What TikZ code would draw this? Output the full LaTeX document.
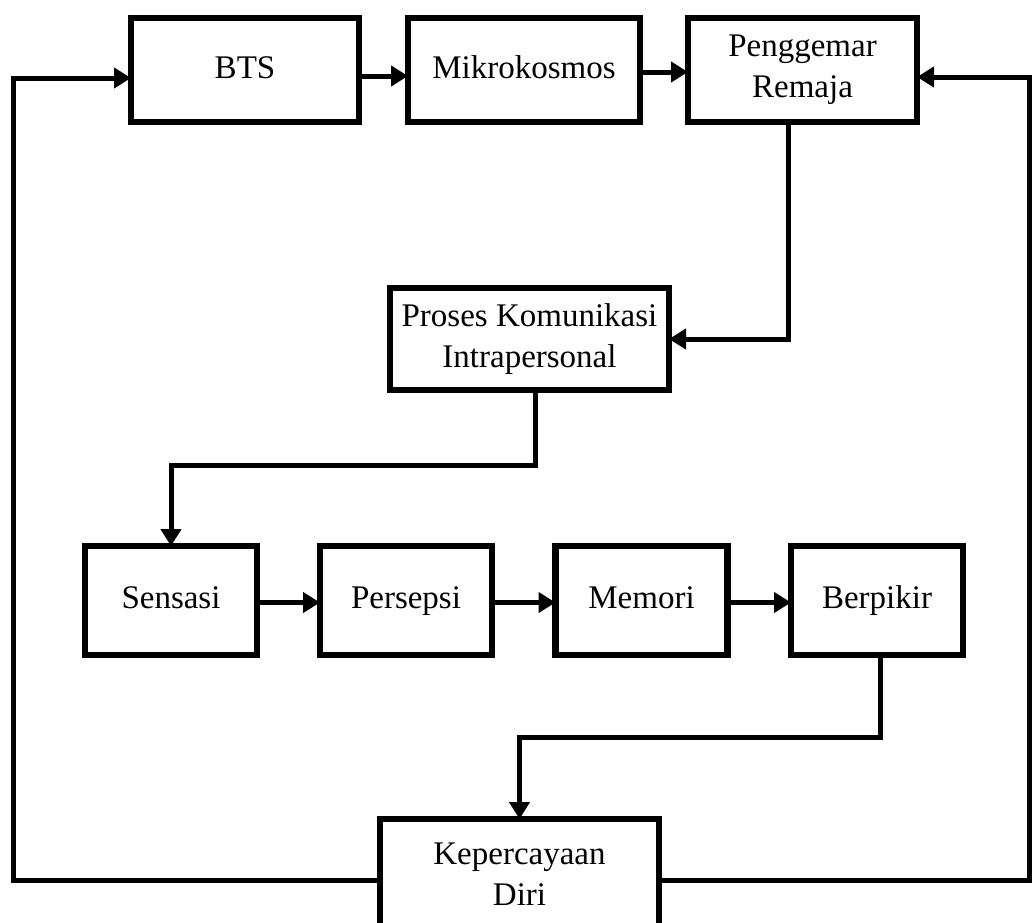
\documentclass[tikz,border=0pt]{standalone}
\usepackage{fontspec}
\setmainfont{Liberation Serif}
\usetikzlibrary{arrows.meta}
\begin{document}
\begin{tikzpicture}[x=1pt,y=1pt,
  box/.style={draw,line width=6.5pt,rectangle,inner sep=0pt,outer sep=0pt,align=center,
    font=\fontsize{33}{41}\selectfont},
  one/.style={box,text height=23pt,text depth=7pt},
  arr/.style={line width=5pt,-{Triangle[length=17pt,width=20pt]}}]
\useasboundingbox (0,0) rectangle (1032,-922);
\fill[white] (0,0) rectangle (1032,-922);
\node[one,minimum width=228pt,minimum height=104pt] (bts) at (245,-70) {BTS};
\node[one,minimum width=232pt,minimum height=104pt] (mik) at (524,-70) {Mikrokosmos};
\node[box,minimum width=229pt,minimum height=104pt] (pen) at (802.5,-70) {Penggemar\\Remaja};
\node[box,minimum width=279pt,minimum height=102pt] (pro) at (529.5,-339) {Proses Komunikasi\\Intrapersonal};
\node[one,minimum width=172pt,minimum height=109pt] (sen) at (171,-600.5) {Sensasi};
\node[one,minimum width=172pt,minimum height=109pt] (per) at (406,-600.5) {Persepsi};
\node[one,minimum width=172pt,minimum height=109pt] (mem) at (641.5,-600.5) {Memori};
\node[one,minimum width=172pt,minimum height=109pt] (ber) at (877,-600.5) {Berpikir};
\node[box,minimum width=279pt,minimum height=110pt] (kep) at (519.5,-874) {Kepercayaan\\Diri};
\coordinate (lc) at (13,-880);
\coordinate (rc) at (1029,-880);
% top row
\draw[arr] ([yshift=-6pt]bts.east) -- ([yshift=-6pt]mik.west);
\draw[arr] ([yshift=-2pt]mik.east) -- ([yshift=-2pt]pen.west);
% feedback loops
\draw[arr] ([yshift=-6pt]kep.west) -- (lc) |- ([yshift=-8pt]bts.west);
\draw[arr] ([yshift=-6pt]kep.east) -- (rc) |- ([yshift=-7pt]pen.east);
% down the middle
\draw[arr] ([xshift=-14.5pt]pen.south) |- (pro.east);
\draw[arr] ([xshift=5.5pt]pro.south) -- ++(0,-75.5) -| (sen.north);
% middle row
\draw[arr] ([yshift=-2pt]sen.east) -- ([yshift=-2pt]per.west);
\draw[arr] ([yshift=-2pt]per.east) -- ([yshift=-2pt]mem.west);
\draw[arr] ([yshift=-2pt]mem.east) -- ([yshift=-2pt]ber.west);
\draw[arr] ([xshift=3pt]ber.south) -- ++(0,-82.5) -| (kep.north);
\end{tikzpicture}
\end{document}
